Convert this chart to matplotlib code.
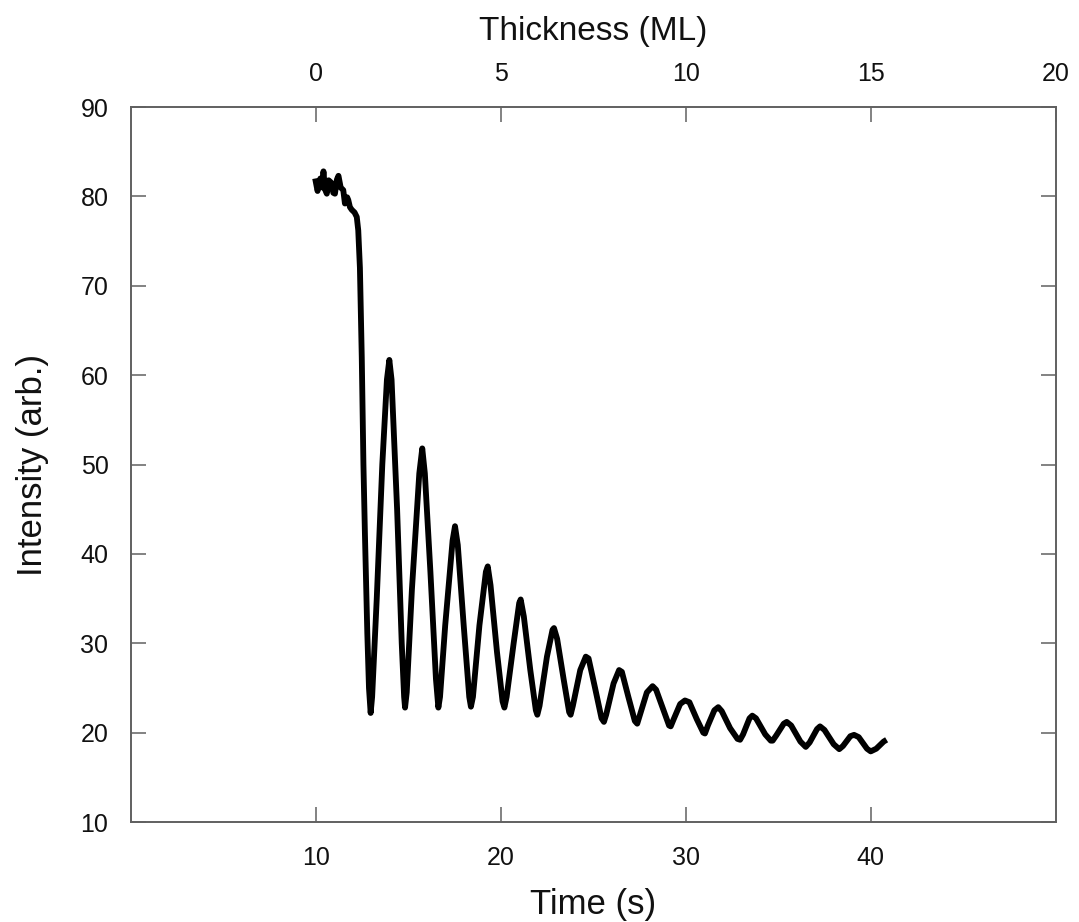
import matplotlib
matplotlib.use("Agg")
import matplotlib.pyplot as plt

plt.rcParams['font.family'] = ['Liberation Sans', 'DejaVu Sans']

time_s = [9.97, 10.1, 10.25, 10.35, 10.42, 10.5, 10.6, 10.7, 10.86, 10.95, 11.04, 11.15, 11.23, 11.35,
          11.49, 11.58, 11.7, 11.76, 11.85, 11.95, 12.1, 12.22, 12.3, 12.39, 12.49, 12.58, 12.66, 12.79,
          12.88, 12.97, 13.05, 13.3, 13.6, 13.85, 13.98, 14.1, 14.4, 14.65, 14.78, 14.83, 14.92, 15.2,
          15.6, 15.76, 15.9, 16.2, 16.5, 16.63, 16.72, 17.0, 17.4, 17.53, 17.68, 18.0, 18.3, 18.39, 18.5,
          18.85, 19.2, 19.3, 19.45, 19.8, 20.1, 20.2, 20.32, 20.7, 21.0, 21.08, 21.25, 21.6, 21.9, 21.98,
          22.1, 22.5, 22.8, 22.88, 23.05, 23.4, 23.7, 23.78, 23.9, 24.3, 24.6, 24.75, 25.1, 25.45, 25.58,
          25.7, 26.1, 26.4, 26.55, 26.9, 27.25, 27.38, 27.5, 27.9, 28.21, 28.4, 28.8, 29.1, 29.19, 29.35,
          29.7, 29.96, 30.2, 30.6, 30.95, 31.04, 31.2, 31.55, 31.76, 31.95, 32.4, 32.8, 32.94, 33.1, 33.45,
          33.6, 33.8, 34.3, 34.6, 34.7, 34.9, 35.3, 35.46, 35.7, 36.2, 36.49, 36.7, 37.1, 37.26, 37.5,
          38.0, 38.3, 38.5, 38.9, 39.1, 39.35, 39.8, 40.0, 40.3, 40.5, 40.7, 40.86]
intensity = [82.0, 80.6, 82.0, 81.0, 82.8, 80.8, 80.3, 81.8, 81.5, 80.4, 80.3, 81.9, 82.3, 81.0,
             80.7, 79.2, 79.9, 79.6, 78.8, 78.5, 78.2, 77.7, 76.2, 72.0, 62.0, 50.0, 42.3, 31.1,
             25.0, 22.2, 24.0, 35.0, 50.0, 59.5, 61.7, 59.5, 45.0, 30.0, 24.0, 22.8, 24.5, 36.0,
             49.0, 51.8, 49.0, 38.0, 26.0, 22.8, 24.0, 32.0, 41.5, 43.1, 41.0, 32.0, 24.0, 22.9, 24.0,
             32.0, 38.0, 38.6, 36.5, 29.0, 23.5, 22.8, 24.0, 30.0, 34.5, 34.9, 33.0, 27.0, 22.5, 22.0,
             23.0, 28.5, 31.5, 31.7, 30.5, 26.0, 22.3, 22.0, 23.0, 27.0, 28.5, 28.3, 25.0, 21.6, 21.2,
             22.0, 25.5, 27.0, 26.8, 24.0, 21.3, 21.0, 21.8, 24.5, 25.2, 24.8, 22.5, 20.8, 20.7, 21.5,
             23.2, 23.6, 23.4, 21.5, 20.0, 19.9, 20.8, 22.5, 22.85, 22.4, 20.5, 19.3, 19.2, 19.8, 21.6,
             21.9, 21.6, 19.8, 19.1, 19.1, 19.7, 21.0, 21.2, 20.8, 19.0, 18.4, 18.9, 20.4, 20.7, 20.3,
             18.7, 18.15, 18.5, 19.6, 19.75, 19.5, 18.2, 17.9, 18.2, 18.6, 19.0, 19.2]

time_ticks = [10, 20, 30, 40]
thick_ticks = [0, 5, 10, 15, 20]
y_ticks = [10, 20, 30, 40, 50, 60, 70, 80, 90]

fig = plt.figure(figsize=(10.79, 9.22), dpi=100)
ax = fig.add_axes([130.7 / 1079, 100 / 922, 925 / 1079, 715 / 922])
ax.plot(time_s, intensity, color='black', lw=4.2, solid_joinstyle='round', solid_capstyle='butt')
ax.set_xlim(0, 50)
ax.set_ylim(10, 90)
ax.set_xticks(time_ticks)
ax.set_yticks(y_ticks)

spine_c = '#606060'
for s in ax.spines.values():
    s.set_color(spine_c)
    s.set_linewidth(1.2)

ax.tick_params(axis='both', direction='in', length=10.5, width=1.1, color=spine_c,
               labelsize=18, labelcolor='#111111')
ax.tick_params(axis='x', pad=17, top=False)
ax.tick_params(axis='y', pad=16, right=True)

ax2 = ax.twiny()
ax2.set_xlim((0 - 10) / 2, (50 - 10) / 2)
ax2.set_xticks(thick_ticks)
ax2.tick_params(axis='x', direction='in', length=10.5, width=1.1, color=spine_c,
                labelsize=18, labelcolor='#111111', pad=15)
for s in ax2.spines.values():
    s.set_color(spine_c)
    s.set_linewidth(1.2)

ax.set_xlabel('Time (s)', fontsize=25, color='#111111', labelpad=13)
ax.set_ylabel('Intensity (arb.)', fontsize=25, color='#111111', labelpad=23)
ax2.set_xlabel('Thickness (ML)', fontsize=24, color='#111111', labelpad=16)

fig.savefig('out.png', dpi=100)
